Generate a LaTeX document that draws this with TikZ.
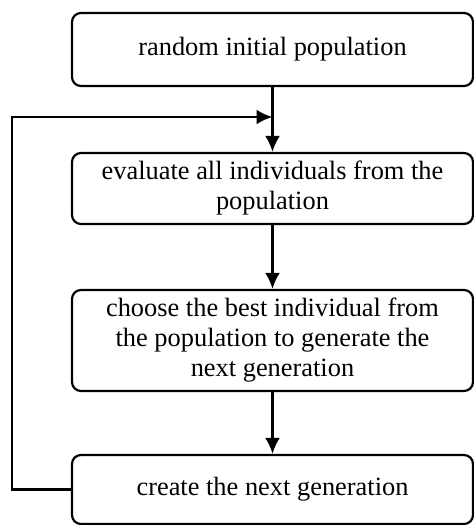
\documentclass[tikz,border=0pt]{standalone}
\usepackage{fontspec}
\setmainfont{Liberation Serif}
\usetikzlibrary{calc, positioning, arrows.meta}

\begin{document}
\begin{tikzpicture}[x=0.5pt, y=-0.5pt,
    stepbox/.style={draw, line width=1.1pt, rounded corners=4.5pt, minimum width=200.5pt,
      align=center, inner sep=0pt, font=\fontsize{13.2}{15}\selectfont},
    flow/.style={line width=1.3pt, -{Latex[length=8pt, width=7.5pt]}}]
    % Page frame
    \useasboundingbox (0,0) rectangle (474,525);

    % Steps of the algorithm
    \node[stepbox, minimum height=36.5pt] (init) at (272.5,49.5) {random initial population};
    \node[stepbox, minimum height=35.5pt] (eval) at (272.5,188.5) {evaluate all individuals from the\\population};
    \node[stepbox, minimum height=50.5pt] (choose) at (272.5,340.5) {choose the best individual from\\the population to generate the\\next generation};
    \node[stepbox, minimum height=34.5pt] (create) at (272.5,489.5) {create the next generation};

    % Feedback loop meets the main line here
    \coordinate (merge) at (272.5,117);
    \coordinate (corner) at (12,117);

    % Connectors
    \draw[flow] (init.south) -- (eval.north);
    \draw[flow] (eval.south) -- (choose.north);
    \draw[flow] (choose.south) -- (create.north);
    \draw[flow] (create.west) -| (corner) -- (merge);
\end{tikzpicture}
\end{document}
